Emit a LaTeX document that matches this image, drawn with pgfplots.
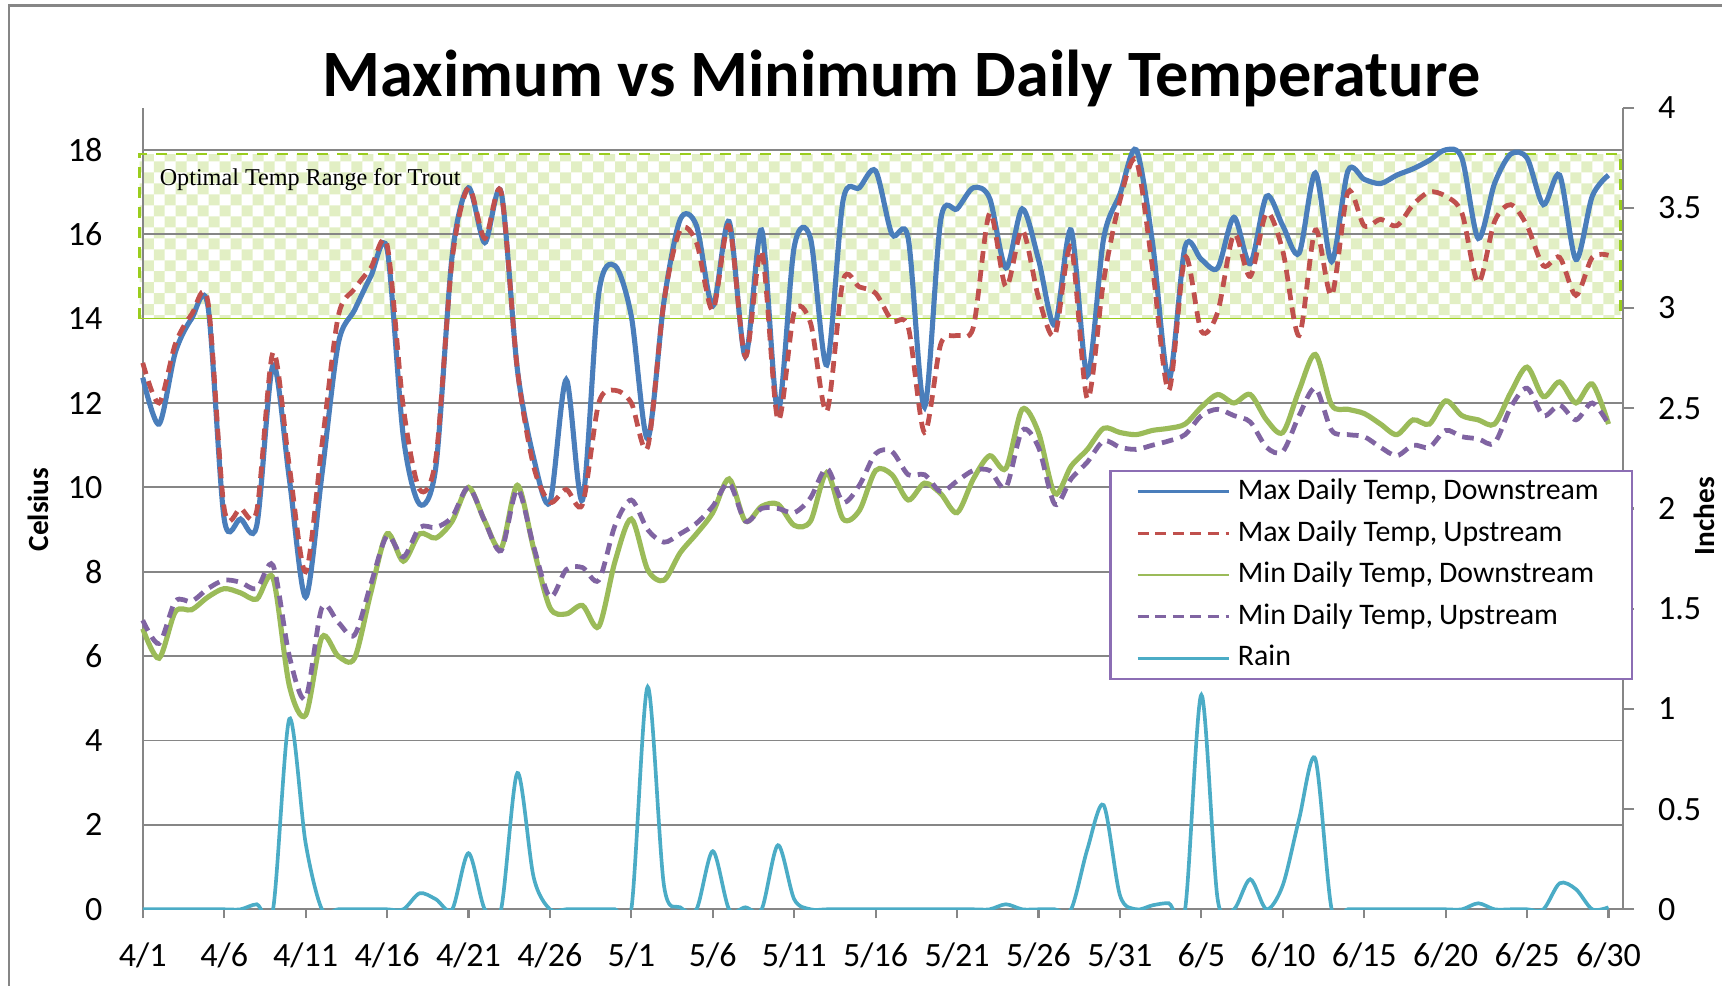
\documentclass[border=0pt]{standalone}
\usepackage{fontspec}
\setmainfont{Carlito}
\newfontfamily\serifx{Liberation Serif}
\usepackage{pgfplots}
\pgfplotsset{compat=1.18}
\usepackage{pgfplotstable}
\usetikzlibrary{patterns}

\definecolor{cblue}{RGB}{74,126,187}
\definecolor{cred}{RGB}{192,80,77}
\definecolor{cgreen}{RGB}{155,187,89}
\definecolor{cpurple}{RGB}{128,100,162}
\definecolor{crain}{RGB}{75,172,198}
\definecolor{gridgray}{RGB}{134,134,134}
\definecolor{checkgreen}{RGB}{226,239,196}
\definecolor{boxline}{RGB}{154,205,30}
\definecolor{legpurple}{RGB}{140,110,180}

\pgfdeclarepatternformonly{bigcheck}{\pgfqpoint{-.1pt}{-.1pt}}{\pgfqpoint{6.1pt}{6.1pt}}{\pgfqpoint{6pt}{6pt}}{%
  \pgfpathrectangle{\pgfqpoint{0pt}{0pt}}{\pgfqpoint{3pt}{3pt}}%
  \pgfpathrectangle{\pgfqpoint{3pt}{3pt}}{\pgfqpoint{3pt}{3pt}}%
  \pgfusepath{fill}}

\pgfplotstableread{
d maxd maxu mind minu rain
0 12.6 12.95 6.65 6.85 0
1 11.5 12.0 5.95 6.3 0
2 13.2 13.4 7.05 7.3 0
3 14.0 14.1 7.1 7.3 0
4 14.3 14.4 7.4 7.6 0
5 9.25 9.5 7.6 7.8 0
6 9.25 9.5 7.5 7.75 0
7 9.1 9.45 7.35 7.6 0.025
8 12.9 13.2 7.85 8.15 0
9 10.2 10.5 5.3 6.0 0.95
10 7.4 8.0 4.6 5.0 0.33
11 10.3 11.0 6.45 7.15 0
12 13.4 14.05 6.0 6.8 0
13 14.2 14.7 5.95 6.5 0
14 15.0 15.2 7.5 7.7 0
15 15.65 15.75 8.9 8.85 0
16 11.2 11.9 8.25 8.35 0
17 9.6 9.95 8.9 9.05 0.08
18 10.5 10.7 8.8 9.05 0.05
19 15.5 15.4 9.2 9.3 0
20 17.1 17.1 10.0 10.0 0.28
21 15.8 15.9 9.2 9.2 0
22 17.0 17.0 8.55 8.5 0
23 12.8 12.8 10.05 9.95 0.68
24 10.7 10.5 8.55 8.6 0.16
25 9.65 9.65 7.15 7.4 0
26 12.55 9.95 7.0 8.05 0
27 9.7 9.6 7.2 8.1 0
28 14.6 12.0 6.7 7.8 0
29 15.25 12.3 8.25 9.1 0
30 14.05 12.0 9.25 9.7 0
31 11.15 10.95 8.05 9.0 1.11
32 14.4 14.4 7.8 8.7 0.12
33 16.35 16.1 8.45 8.9 0.01
34 16.2 15.8 8.9 9.15 0
35 14.3 14.2 9.4 9.55 0.29
36 16.3 16.2 10.2 10.1 0
37 13.1 13.1 9.2 9.2 0.01
38 16.1 15.6 9.55 9.5 0
39 11.8 11.6 9.6 9.5 0.32
40 15.7 14.15 9.1 9.4 0.05
41 15.9 13.9 9.2 9.75 0
42 12.9 11.8 10.35 10.45 0
43 16.8 14.9 9.25 9.65 0
44 17.1 14.75 9.45 10.05 0
45 17.5 14.6 10.4 10.8 0
46 16.0 13.95 10.3 10.85 0
47 15.9 13.8 9.7 10.3 0
48 11.9 11.3 10.1 10.3 0
49 16.35 13.4 9.85 9.9 0
50 16.6 13.6 9.4 10.15 0
51 17.1 13.8 10.2 10.4 0
52 16.85 16.5 10.75 10.4 0
53 15.2 14.75 10.45 10.0 0.025
54 16.6 16.1 11.85 11.35 0
55 15.4 14.5 11.3 10.95 0
56 13.85 13.6 9.85 9.6 0
57 16.1 15.7 10.5 10.2 0
58 12.65 12.1 10.9 10.6 0.3
59 15.9 14.9 11.4 11.1 0.52
60 16.95 16.8 11.3 10.95 0.07
61 18.0 17.75 11.25 10.9 0
62 15.8 15.2 11.35 11.0 0.02
63 12.55 12.3 11.4 11.1 0.03
64 15.7 15.45 11.5 11.25 0
65 15.4 13.7 11.9 11.7 1.07
66 15.2 14.15 12.2 11.85 0.05
67 16.4 16.0 12.0 11.7 0
68 15.3 15.0 12.2 11.55 0.15
69 16.9 16.5 11.6 10.95 0
70 16.2 15.6 11.3 10.85 0.12
71 15.55 13.6 12.3 11.7 0.45
72 17.45 16.1 13.15 12.35 0.75
73 15.35 14.55 11.95 11.35 0
74 17.5 17.0 11.85 11.25 0
75 17.3 16.2 11.75 11.2 0
76 17.2 16.35 11.5 10.95 0
77 17.4 16.2 11.25 10.75 0
78 17.55 16.7 11.6 11.0 0
79 17.75 17.0 11.5 10.95 0
80 18.0 16.9 12.05 11.35 0
81 17.8 16.5 11.7 11.2 0
82 15.9 14.85 11.6 11.15 0.03
83 17.2 16.3 11.5 11.05 0
84 17.9 16.7 12.25 11.9 0
85 17.8 16.2 12.85 12.35 0
86 16.7 15.25 12.15 11.7 0
87 17.4 15.45 12.5 11.95 0.13
88 15.4 14.55 12.0 11.6 0.1
89 16.9 15.45 12.45 12.0 0
90 17.4 15.5 11.5 11.5 0.01
}\datatable

\begin{document}
\begin{tikzpicture}
\begin{axis}[
  set layers,
  scale only axis, width=404.4pt, height=219pt,
  xmin=0, xmax=90.9, ymin=0, ymax=19,
  axis x line*=bottom, axis y line*=left,
  axis line style={draw=gridgray, line width=0.6pt},
  xtick={0,5,...,90},
  xticklabels={4/1,4/6,4/11,4/16,4/21,4/26,5/1,5/6,5/11,5/16,5/21,5/26,5/31,6/5,6/10,6/15,6/20,6/25,6/30},
  ytick={0,2,...,18},
  ymajorgrids, major grid style={draw=gridgray, line width=0.5pt},
  tick align=outside, major tick length=2.5pt,
  x tick style={draw=gridgray, line width=0.6pt},
  y tick style={draw=none},
  tick label style={font=\fontsize{9.3}{11}\selectfont},
  xticklabel style={yshift=-3pt},
  yticklabel style={xshift=-5pt},
  /pgf/number format/assume math mode=true,
  clip=false,
]
\begin{pgfonlayer}{axis background}
\fill[pattern=bigcheck, pattern color=checkgreen] (axis cs:-0.2,14) rectangle (axis cs:90.75,17.9);
\end{pgfonlayer}
\draw[boxline, dashed, dash pattern=on 3pt off 2.5pt, line width=0.8pt] (axis cs:-0.2,14) -- (axis cs:-0.2,17.9) -- (axis cs:90.75,17.9) -- (axis cs:90.75,14);
\draw[boxline, line width=0.5pt] (axis cs:-0.2,14) -- (axis cs:90.75,14);
\addplot[cblue, line width=1.4pt, smooth, no marks] table[x=d, y=maxd] {\datatable};
\addplot[cred, line width=1.3pt, smooth, no marks, dash pattern=on 3.2pt off 2pt] table[x=d, y=maxu] {\datatable};
\addplot[cgreen, line width=1.4pt, smooth, no marks] table[x=d, y=mind] {\datatable};
\addplot[cpurple, line width=1.3pt, smooth, no marks, dash pattern=on 3.2pt off 2pt] table[x=d, y=minu] {\datatable};
\node[anchor=west, font=\serifx\fontsize{6.6}{8}\selectfont] at (axis cs:0.25,17.3) {Optimal Temp Range for Trout};
\end{axis}
\begin{axis}[
  scale only axis, width=404.4pt, height=219pt,
  xmin=0, xmax=90.9, ymin=0, ymax=4,
  axis x line=none, axis y line*=right,
  axis line style={draw=gridgray, line width=0.6pt},
  ytick={0,0.5,...,4},
  tick align=outside, major tick length=3pt,
  y tick style={draw=gridgray, line width=0.6pt},
  tick label style={font=\fontsize{9.3}{11}\selectfont},
  yticklabel style={xshift=3pt},
  /pgf/number format/assume math mode=true,
  legend style={at={(0.653,0.548)}, anchor=north west, draw=legpurple, line width=0.6pt,
    font=\fontsize{8.15}{9.6}\selectfont, row sep=0pt, inner xsep=7pt, inner ysep=0pt,
    nodes={inner ysep=2.1pt}},
  legend cell align=left,
  legend image code/.code={\draw[#1] (0pt,0pt) -- (25pt,0pt);},
]
\addlegendimage{cblue, line width=0.8pt}
\addlegendimage{cred, line width=0.8pt, dash pattern=on 3pt off 1.8pt}
\addlegendimage{cgreen, line width=0.8pt}
\addlegendimage{cpurple, line width=0.8pt, dash pattern=on 3pt off 1.8pt}
\addlegendimage{crain, line width=0.8pt}
\addplot[crain, line width=1.0pt, smooth, no marks, forget plot] table[x=d, y=rain] {\datatable};
\legend{Max Daily Temp\rlap{,} \ Downstream, Max Daily Temp\rlap{,} \ Upstream, Min Daily Temp\rlap{,} \ Downstream, Min Daily Temp\rlap{,} \ Upstream, Rain}
\end{axis}
\node[font=\fontsize{18.1}{21}\selectfont\bfseries] at (207.3pt,227pt) {Maximum vs Minimum Daily Temperature};
\node[rotate=90, font=\fontsize{8}{10}\selectfont\bfseries] at (-28.5pt,109.2pt) {Celsius};
\node[rotate=90, font=\fontsize{8}{10}\selectfont\bfseries] at (426.6pt,107.4pt) {Inches};
\draw[gridgray, line width=0.7pt] (-36.6pt,-40pt) -- (-36.6pt,246.9pt) -- (460pt,246.9pt);
\pgfresetboundingbox
\useasboundingbox (-39pt,-20.7pt) rectangle (431.4pt,248.4pt);
\end{tikzpicture}
\end{document}
